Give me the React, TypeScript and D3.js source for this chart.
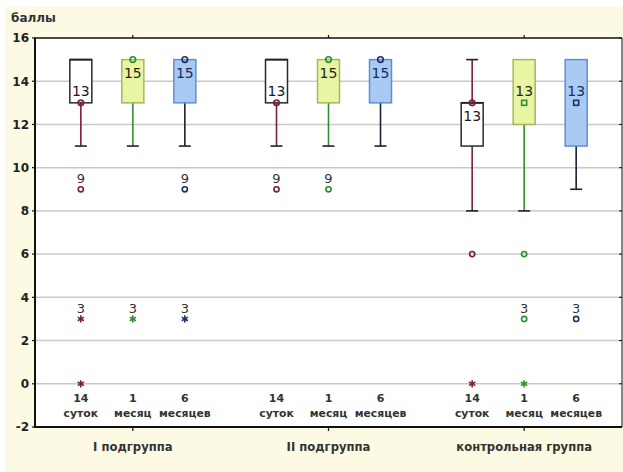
import React from "react";
import * as d3 from "d3";

const groups = ["I подгруппа", "II подгруппа", "контрольная группа"];
const periodNumbers = ["14", "1", "6"];
const periodWords = ["суток", "месяц", "месяцев"];
const yTicks = [-2, 0, 2, 4, 6, 8, 10, 12, 14, 16];
const gridValues = [0, 2, 4, 6, 8, 10, 12, 14];

// one entry per box, group-major order (group × period)
const q1 = [13, 13, 13, 13, 13, 13, 11, 12, 11];
const q3 = [15, 15, 15, 15, 15, 15, 13, 15, 15];
const medians = [13, 15, 15, 13, 15, 15, 13, 13, 13];
const whiskerLow = [11, 11, 11, 11, 11, 11, 8, 8, 9];
const whiskerHigh = [15, 15, 15, 15, 15, 15, 15, 15, 15];
const medianLabelAbove = [true, false, false, true, false, false, false, true, true];
const medianSquare = [false, false, false, false, false, false, false, true, true];

// outliers
const outlierBox = [0, 0, 0, 1, 2, 2, 3, 4, 6, 6, 7, 7, 7, 8];
const outlierValue = [9, 3, 0, 3, 9, 3, 9, 9, 6, 0, 6, 3, 0, 3];
const outlierStar = [false, true, true, true, false, true, false, false, false, true, false, false, true, false];
const outlierLabeled = [true, true, false, true, true, true, true, true, false, false, false, true, false, true];

const W = 623;
const H = 472;
const L = 35, R = 622, T = 38, B = 427;

const fills = ["#ffffff", "#e9f5a3", "#a9cbf3"];
const boxStrokes = ["#2a2a2a", "#a3b85e", "#5d8fd6"];
const whiskerColors = ["#7a2232", "#2f8f2f", "#1f1f2f"];
const markerColors = ["#7a2232", "#2f8f2f", "#1f2f6a"];
const labelColors = ["#1a1a1a", "#1f2a10", "#1a2a5a"];
const FONT = "'DejaVu Sans', Verdana, sans-serif";

export default function App() {
  const y = d3.scaleLinear().domain([-2, 16]).range([B, T]);
  const gx = d3.scaleBand<string>().domain(groups).range([L, R]);
  const px = d3.scalePoint<string>().domain(periodNumbers).range([-52, 52]);
  const boxX = (i: number) => {
    const g = groups[Math.floor(i / 3)];
    const p = periodNumbers[i % 3];
    return (gx(g) as number) + gx.bandwidth() / 2 + (px(p) as number);
  };
  const bw = 22;
  const cap = 12;
  const star = d3.symbol().type(d3.symbolAsterisk).size(36);
  const boxes = q1.map((_, i) => i);

  return (
    <svg width={W} height={H} style={{ position: "absolute", left: 0, top: 0 }} fontFamily={FONT}>
      <rect x={0} y={0} width={W} height={H} fill="#ffffff" />
      <rect x={5} y={7} width={W - 5} height={H - 7} fill="#fcfae3" />
      <rect x={L} y={T} width={R - L} height={B - T} fill="#ffffff" />
      {gridValues.map((v) => (
        <line key={v} x1={L} x2={R} y1={y(v)} y2={y(v)} stroke="#c9c9c9" strokeWidth={1.5} />
      ))}
      {/* frame */}
      <line x1={L} x2={R} y1={T} y2={T} stroke="#111" strokeWidth={1.5} />
      <line x1={R} x2={R} y1={T} y2={B} stroke="#111" strokeWidth={1} />
      <line x1={L} x2={L} y1={T - 0.5} y2={B + 1} stroke="#111" strokeWidth={2} />
      <line x1={L} x2={R} y1={B} y2={B} stroke="#111" strokeWidth={2} />
      {yTicks.map((v) => (
        <g key={v}>
          <line x1={L - 3} x2={L} y1={y(v)} y2={y(v)} stroke="#111" strokeWidth={1.2} />
          <line x1={R - 3} x2={R} y1={y(v)} y2={y(v)} stroke="#111" strokeWidth={1} />
          <text x={29} y={y(v)} dy="0.36em" textAnchor="end" fontSize={12} fontWeight="bold" fill="#222">
            {v}
          </text>
        </g>
      ))}
      {groups.map((g) => {
        const cx = (gx(g) as number) + gx.bandwidth() / 2;
        return (
          <g key={g}>
            <line x1={cx} x2={cx} y1={T - 3} y2={T} stroke="#111" strokeWidth={1.2} />
            <line x1={cx} x2={cx} y1={B} y2={B + 4} stroke="#111" strokeWidth={1.2} />
            <text x={cx} y={451} textAnchor="middle" fontSize={11.6} fontWeight="bold" fill="#333">
              {g}
            </text>
          </g>
        );
      })}
      <text x={11} y={22} fontSize={12} fontWeight="bold" fill="#333">баллы</text>

      {boxes.map((i) => {
        const p = i % 3;
        const cx = boxX(i);
        const yq1 = y(q1[i]);
        const yq3 = y(q3[i]);
        const ym = y(medians[i]);
        return (
          <g key={i}>
            {whiskerHigh[i] > q3[i] && (
              <>
                <line x1={cx} x2={cx} y1={y(whiskerHigh[i])} y2={yq3} stroke={whiskerColors[p]} strokeWidth={1.6} />
                <line x1={cx - cap / 2} x2={cx + cap / 2} y1={y(whiskerHigh[i])} y2={y(whiskerHigh[i])} stroke="#222" strokeWidth={1.6} />
              </>
            )}
            <line x1={cx} x2={cx} y1={yq1} y2={y(whiskerLow[i])} stroke={whiskerColors[p]} strokeWidth={1.6} />
            <line x1={cx - cap / 2} x2={cx + cap / 2} y1={y(whiskerLow[i])} y2={y(whiskerLow[i])} stroke="#222" strokeWidth={1.6} />
            <rect x={cx - bw / 2} y={yq3} width={bw} height={yq1 - yq3} fill={fills[p]} stroke={boxStrokes[p]} strokeWidth={1.5} />
            {p === 0 && (
              <line x1={cx - bw / 2} x2={cx + bw / 2} y1={yq3} y2={yq3} stroke="#222" strokeWidth={1.8} />
            )}
            {medianSquare[i] ? (
              <rect x={cx - 2.5} y={ym - 2.5} width={5} height={5} fill="none" stroke={markerColors[p]} strokeWidth={1.6} />
            ) : (
              <circle cx={cx} cy={ym} r={2.8} fill={p === 0 ? markerColors[p] : "none"} fillOpacity={0.25} stroke={markerColors[p]} strokeWidth={1.6} />
            )}
            <text
              x={cx}
              y={medianLabelAbove[i] ? ym - 7 : ym + 8}
              dy={medianLabelAbove[i] ? "0" : "0.75em"}
              textAnchor="middle"
              fontSize={14}
              fill={labelColors[p]}
            >
              {medians[i]}
            </text>
            <text x={cx} y={402} textAnchor="middle" fontSize={11} fontWeight="bold" fill="#333">
              {periodNumbers[p]}
            </text>
            <text x={cx} y={417} textAnchor="middle" fontSize={10.8} fontWeight="bold" fill="#333">
              {periodWords[p]}
            </text>
          </g>
        );
      })}

      {outlierBox.map((b, k) => {
        const p = b % 3;
        const cx = boxX(b);
        const cy = y(outlierValue[k]);
        return (
          <g key={k}>
            {outlierStar[k] ? (
              <path d={star() as string} transform={`translate(${cx},${cy})`} stroke={markerColors[p]} strokeWidth={1.6} fill="none" />
            ) : (
              <circle cx={cx} cy={cy} r={2.6} fill="none" stroke={markerColors[p]} strokeWidth={1.6} />
            )}
            {outlierLabeled[k] && (
              <text x={cx} y={cy - 6} textAnchor="middle" fontSize={13} fill="#333">
                {outlierValue[k]}
              </text>
            )}
          </g>
        );
      })}
    </svg>
  );
}
